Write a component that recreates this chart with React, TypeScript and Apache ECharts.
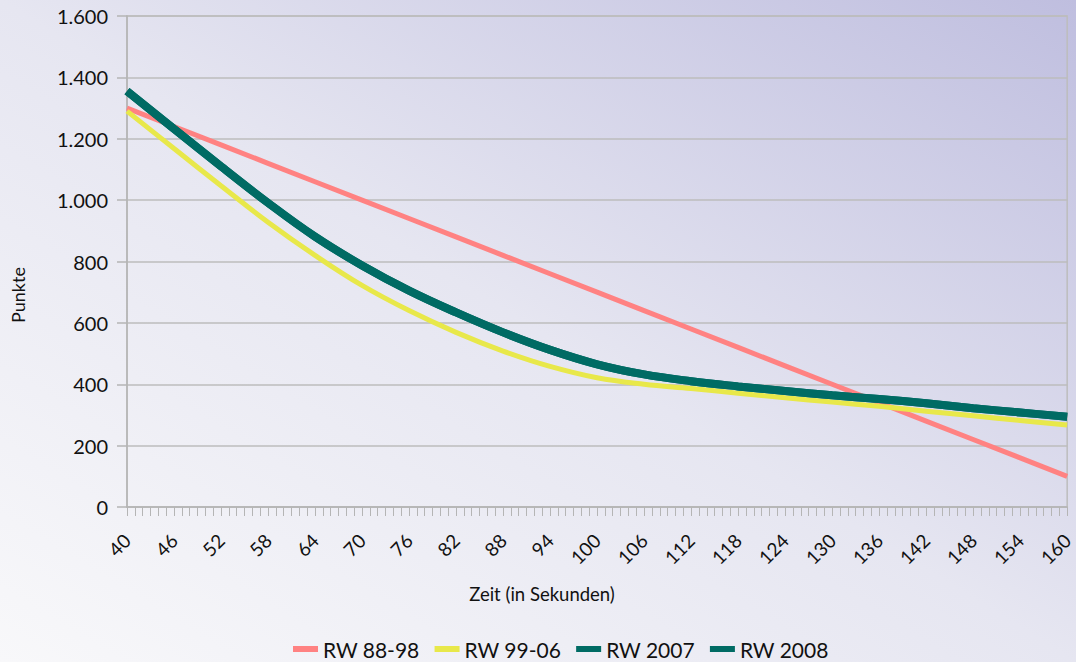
import React, { useEffect, useRef } from "react";
import * as echarts from "echarts";

// x axis categories (seconds), 40..160 in steps of 1
const xStart = 40;
const xEnd = 160;
const categories: string[] = [];
for (let t = xStart; t <= xEnd; t++) categories.push(String(t));

const sampleX = [40, 46, 52, 58, 64, 70, 76, 82, 88, 94, 100, 106, 112, 118, 124, 130, 136, 142, 148, 154, 160];

const rw8898 = [1300, 1240, 1180, 1120, 1060, 1000, 940, 880, 820, 760, 700, 640, 580, 520, 460, 400, 340, 280, 220, 160, 100];
const rw9906 = [1290, 1168, 1047, 928, 820, 722, 640, 569, 508, 458, 421, 400, 386, 371, 356, 342, 328, 312, 297, 282, 267];
const rw2007 = [1355, 1232, 1110, 991, 881, 787, 705, 634, 569, 512, 465, 432, 410, 393, 378, 364, 352, 338, 322, 308, 294];
const rw2008 = [1355, 1232, 1110, 991, 881, 787, 705, 634, 569, 512, 465, 432, 410, 393, 378, 364, 352, 338, 322, 308, 294];

const seriesNames = ["RW 88-98", "RW 99-06", "RW 2007", "RW 2008"];
const seriesColors = ["#ff8282", "#e8e84a", "#006b64", "#006b64"];

const yTicks = [0, 200, 400, 600, 800, 1000, 1200, 1400, 1600];

const FONT = "Lato, 'Open Sans', sans-serif";

function fmt(v: number): string {
  if (v >= 1000) {
    return Math.floor(v / 1000) + "." + String(v % 1000).padStart(3, "0");
  }
  return String(v);
}

function pairs(vals: number[]) {
  return sampleX.map((x, i) => [String(x), vals[i]]);
}

export default function App() {
  const ref = useRef<HTMLDivElement>(null);
  useEffect(() => {
    if (!ref.current) return;
    const chart = echarts.init(ref.current, null, { renderer: "svg" });
    const allData = [rw8898, rw9906, rw2007, rw2008];
    chart.setOption({
      animation: false,
      backgroundColor: "transparent",
      textStyle: { fontFamily: FONT },
      grid: {
        left: 127,
        right: 8,
        top: 16,
        bottom: 155,
        show: true,
        borderColor: "#bdbdbd",
        borderWidth: 1.5,
        backgroundColor: "transparent",
      },
      legend: {
        top: 638,
        left: 293,
        padding: 0,
        icon: "rect",
        itemWidth: 25,
        itemHeight: 6,
        itemGap: 15,
        textStyle: { fontFamily: FONT, fontSize: 21, lineHeight: 22, color: "#111" },
        data: seriesNames,
      },
      xAxis: {
        type: "category",
        data: categories,
        boundaryGap: false,
        axisLine: { show: true, lineStyle: { color: "#b5b5b5", width: 1.5 } },
        axisTick: { show: true, interval: 0, length: 9, lineStyle: { color: "#b5b5b5" } },
        axisLabel: {
          interval: 5,
          rotate: 45,
          margin: 30,
          fontSize: 19,
          color: "#111",
          fontFamily: FONT,
        },
        splitLine: { show: false },
      },
      yAxis: {
        type: "value",
        min: yTicks[0],
        max: yTicks[yTicks.length - 1],
        interval: 200,
        axisLine: { show: true, lineStyle: { color: "#b5b5b5", width: 1.5 } },
        axisTick: { show: true, length: 10, lineStyle: { color: "#b5b5b5", width: 1.5 } },
        axisLabel: {
          margin: 19,
          fontSize: 20,
          color: "#111",
          fontFamily: FONT,
          formatter: (v: number) => fmt(v),
        },
        splitLine: { show: true, lineStyle: { color: "#bcbcbc", width: 1.5 } },
      },
      graphic: [
        {
          type: "text",
          x: 18,
          y: 295,
          rotation: Math.PI / 2,
          style: {
            text: "Punkte",
            fontSize: 18,
            fontFamily: FONT,
            fill: "#111",
            align: "center",
            verticalAlign: "middle",
          },
        },
        {
          type: "text",
          x: 542,
          y: 594,
          style: {
            text: "Zeit (in Sekunden)",
            fontSize: 18.5,
            fontFamily: FONT,
            fill: "#111",
            align: "center",
            verticalAlign: "middle",
          },
        },
      ],
      series: seriesNames.map((name, i) => ({
        name,
        type: "line",
        data: pairs(allData[i]),
        smooth: i === 0 ? false : 0.4,
        showSymbol: false,
        symbol: "none",
        color: seriesColors[i],
        itemStyle: { color: seriesColors[i] },
        lineStyle: { color: seriesColors[i], width: i >= 2 ? 8 : 5 },
        z: 2 + i,
      })),
    });
    return () => chart.dispose();
  }, []);
  return (
    <div
      style={{
        position: "fixed",
        left: 0,
        top: 0,
        width: 1076,
        height: 662,
        background: "linear-gradient(to top right, #f8f8fa 0%, #e6e6f1 50%, #bfbedf 100%)",
      }}
    >
      <div ref={ref} style={{ width: 1076, height: 662 }} />
    </div>
  );
}
